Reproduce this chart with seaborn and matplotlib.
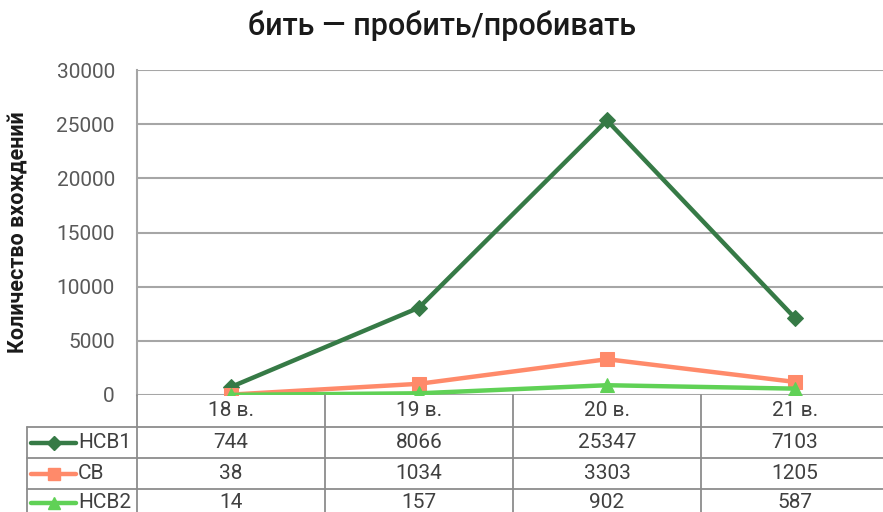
import matplotlib
matplotlib.use("Agg")
import matplotlib.pyplot as plt
import seaborn as sns
import pandas as pd

# Data
centuries = ["18 в.", "19 в.", "20 в.", "21 в."]
series_names = ["НСВ1", "СВ", "НСВ2"]
nsv1 = [744, 8066, 25347, 7103]
sv = [38, 1034, 3303, 1205]
nsv2 = [14, 157, 902, 587]
y_ticks = [0, 5000, 10000, 15000, 20000, 25000, 30000]

colors = {"НСВ1": "#367a46", "СВ": "#ff8a6a", "НСВ2": "#60d156"}
markers = {"НСВ1": "D", "СВ": "s", "НСВ2": "^"}
msizes = {"НСВ1": 8, "СВ": 10, "НСВ2": 10}

values = {"НСВ1": nsv1, "СВ": sv, "НСВ2": nsv2}
rows = []
for name in series_names:
    for i, v in enumerate(values[name]):
        rows.append({"pos": i, "value": v, "series": name})
df = pd.DataFrame(rows)

sns.set_theme(style="white")
plt.rcParams["font.family"] = ["Roboto", "DejaVu Sans"]

W, H = 883, 512
fig = plt.figure(figsize=(W / 100, H / 100), dpi=100)

def fx(px):
    return px / W

def fy(py):
    return 1 - py / H

left, right, top, bottom = 137, 889, 70, 395
ax = fig.add_axes([fx(left), fy(bottom), fx(right) - fx(left), fy(top) - fy(bottom)])

for name in series_names:
    sub = df[df["series"] == name]
    sns.lineplot(data=sub, x="pos", y="value", ax=ax, color=colors[name],
                 marker=markers[name], markersize=msizes[name],
                 markeredgecolor=colors[name], linewidth=3.2, legend=False)

ax.set_xlim(-0.5, len(centuries) - 0.5)
ax.set_ylim(0, 30000)
ax.set_yticks(y_ticks)
ax.set_yticklabels([str(t) for t in y_ticks], fontsize=15, color="#595959")
ax.set_xticks([])
ax.tick_params(axis="y", length=0, pad=16)
ax.set_xlabel("")
ax.set_ylabel("")
ax.yaxis.grid(True, color="#a6a6a6", linewidth=1.5)
ax.set_axisbelow(True)
for s in ["top", "right", "bottom"]:
    ax.spines[s].set_visible(False)
ax.spines["left"].set_color("#a6a6a6")
ax.spines["left"].set_linewidth(1.5)

# Title and axis label
fig.text(0.5, fy(26), "бить — пробить/пробивать", ha="center", va="center",
         fontsize=22, fontweight="medium", color="#1a1a1a")
fig.text(fx(18), fy((top + bottom) / 2), "Количество вхождений", rotation=90,
         ha="center", va="center", fontsize=15.5, fontweight="bold", color="#1a1a1a")

# Data table under the chart
grid_kw = dict(color="#8c8c8c", linewidth=1.3, transform=fig.transFigure, clip_on=False)
row_edges = [395, 427, 458, 489, 520]
col_w = (right - left) / len(centuries)
col_edges = [left + i * col_w for i in range(len(centuries) + 1)]
tbl_left = 27

# horizontal borders
for yy in row_edges[1:4]:
    fig.add_artist(plt.Line2D([fx(tbl_left), fx(right)], [fy(yy), fy(yy)], **grid_kw))
# vertical borders
fig.add_artist(plt.Line2D([fx(tbl_left), fx(tbl_left)], [fy(427), fy(520)], **grid_kw))
for xx in col_edges[1:-1]:
    fig.add_artist(plt.Line2D([fx(xx), fx(xx)], [fy(395), fy(520)], **grid_kw))
fig.add_artist(plt.Line2D([fx(left), fx(left)], [fy(395), fy(520)], **grid_kw))

txt_kw = dict(fontsize=15, color="#404040", ha="center", va="center")
for i, c in enumerate(centuries):
    cx = (col_edges[i] + col_edges[i + 1]) / 2
    fig.text(fx(cx), fy(411), c, **txt_kw)

for r, name in enumerate(series_names):
    cy = (row_edges[r + 1] + row_edges[r + 2]) / 2
    if r == 2:
        cy = 503
    # legend key: line with a marker in the middle
    fig.add_artist(plt.Line2D([fx(31), fx(76)], [fy(cy), fy(cy)], color=colors[name],
                              linewidth=3.2, transform=fig.transFigure))
    fig.add_artist(plt.Line2D([fx(53.5)], [fy(cy)], color=colors[name], linestyle="none",
                              marker=markers[name], markersize=msizes[name] - 1,
                              markeredgecolor=colors[name], transform=fig.transFigure))
    fig.text(fx(78), fy(cy), name, fontsize=15, color="#404040",
             ha="left", va="center")
    for i, v in enumerate(values[name]):
        cx = (col_edges[i] + col_edges[i + 1]) / 2
        fig.text(fx(cx), fy(cy), str(v), **txt_kw)

fig.savefig("out.png", dpi=100, facecolor="white")
